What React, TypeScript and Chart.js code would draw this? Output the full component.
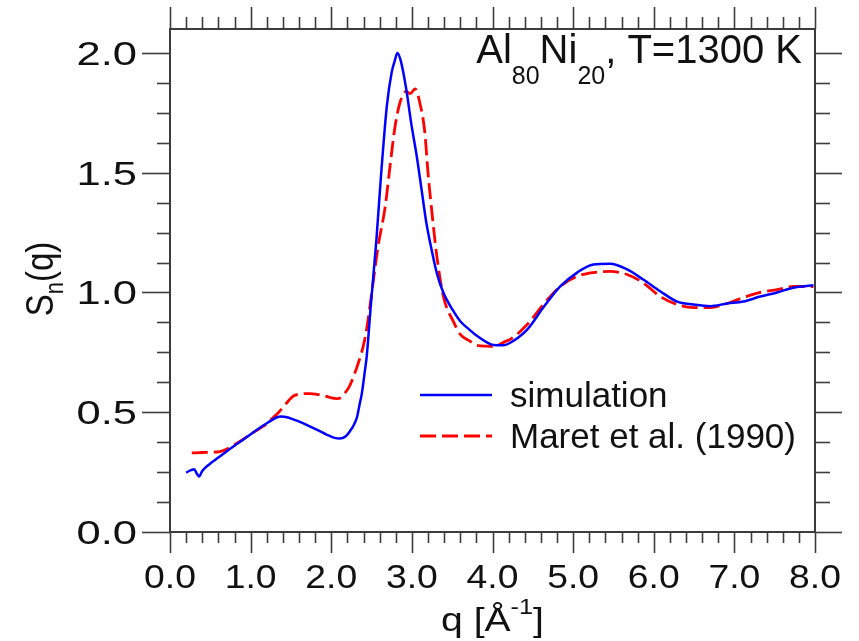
import React, { useEffect, useRef } from "react";
import { Chart, registerables } from "chart.js";

Chart.register(...registerables);

// ---- data ----
const simQ = [0.20, 0.26, 0.30, 0.33, 0.36, 0.40, 0.50, 0.60, 0.70, 0.80, 0.91, 1.00, 1.12, 1.22, 1.32, 1.38, 1.45, 1.53, 1.64, 1.74, 1.84, 1.94, 2.03, 2.11, 2.18, 2.23, 2.28, 2.32, 2.35, 2.38, 2.42, 2.44, 2.49, 2.56, 2.62, 2.69, 2.75, 2.79, 2.82, 2.86, 2.93, 2.99, 3.06, 3.12, 3.18, 3.25, 3.31, 3.39, 3.51, 3.60, 3.72, 3.81, 3.93, 4.01, 4.14, 4.22, 4.43, 4.63, 4.84, 5.05, 5.25, 5.46, 5.67, 5.87, 6.08, 6.29, 6.49, 6.70, 6.91, 7.11, 7.32, 7.53, 7.73, 7.98];
const simS = [0.248, 0.258, 0.262, 0.245, 0.232, 0.255, 0.286, 0.311, 0.336, 0.360, 0.386, 0.408, 0.436, 0.458, 0.478, 0.482, 0.479, 0.470, 0.456, 0.440, 0.424, 0.407, 0.394, 0.390, 0.400, 0.420, 0.447, 0.480, 0.530, 0.580, 0.680, 0.733, 0.943, 1.22, 1.50, 1.78, 1.92, 1.97, 2.0, 1.97, 1.85, 1.71, 1.57, 1.43, 1.29, 1.17, 1.08, 1.0, 0.925, 0.880, 0.843, 0.818, 0.792, 0.781, 0.780, 0.790, 0.845, 0.937, 1.025, 1.083, 1.117, 1.120, 1.096, 1.054, 1.005, 0.962, 0.950, 0.943, 0.954, 0.962, 0.983, 1.000, 1.020, 1.030];

const expQ = [0.27, 0.40, 0.50, 0.62, 0.70, 0.80, 0.91, 1.00, 1.12, 1.20, 1.28, 1.34, 1.40, 1.47, 1.53, 1.60, 1.68, 1.74, 1.82, 1.90, 1.98, 2.07, 2.13, 2.17, 2.22, 2.26, 2.33, 2.40, 2.44, 2.48, 2.58, 2.67, 2.73, 2.79, 2.85, 2.93, 2.98, 3.04, 3.10, 3.16, 3.20, 3.25, 3.31, 3.39, 3.52, 3.60, 3.72, 3.81, 3.93, 4.01, 4.17, 4.22, 4.43, 4.63, 4.84, 5.05, 5.25, 5.46, 5.67, 5.87, 6.08, 6.29, 6.49, 6.70, 6.91, 7.11, 7.32, 7.53, 7.73, 7.98];
const expS = [0.330, 0.332, 0.333, 0.336, 0.345, 0.365, 0.388, 0.408, 0.434, 0.452, 0.478, 0.497, 0.520, 0.548, 0.568, 0.575, 0.578, 0.578, 0.575, 0.570, 0.562, 0.557, 0.563, 0.580, 0.605, 0.635, 0.700, 0.780, 0.850, 0.943, 1.19, 1.36, 1.53, 1.69, 1.79, 1.84, 1.83, 1.85, 1.79, 1.67, 1.50, 1.33, 1.15, 0.985, 0.875, 0.825, 0.797, 0.779, 0.776, 0.775, 0.797, 0.804, 0.866, 0.950, 1.025, 1.067, 1.083, 1.088, 1.075, 1.040, 0.983, 0.950, 0.937, 0.937, 0.954, 0.979, 1.000, 1.012, 1.025, 1.025];

const seriesNames = ["simulation", "Maret et al. (1990)"];
const xTickValues = [0, 1, 2, 3, 4, 5, 6, 7, 8];
const xTickLabels = ["0.0", "1.0", "2.0", "3.0", "4.0", "5.0", "6.0", "7.0", "8.0"];
const yTickValues = [0, 0.5, 1.0, 1.5, 2.0];
const yTickLabels = ["0.0", "0.5", "1.0", "1.5", "2.0"];
const X_MIN = 0, X_MAX = 8, X_MINOR = 0.2;
const Y_MIN = 0, Y_MAX = 2.1, Y_MINOR = 0.125;

const FONT = "'Liberation Sans', Arial, Helvetica, sans-serif";

function stretchedText(ctx: CanvasRenderingContext2D, text: string, x: number, y: number, size: number, sx: number, align: "left" | "center" | "right") {
  ctx.save();
  ctx.font = `${size}px ${FONT}`;
  const w = ctx.measureText(text).width * sx;
  let left = x;
  if (align === "center") left = x - w / 2;
  if (align === "right") left = x - w;
  ctx.translate(left, y);
  ctx.scale(sx, 1);
  ctx.textAlign = "left";
  ctx.textBaseline = "alphabetic";
  ctx.fillText(text, 0, 0);
  ctx.restore();
  return w;
}

const framePlugin = {
  id: "framePlugin",
  afterDraw(chart: any) {
    const { ctx, chartArea: a, scales } = chart;
    const xs = scales.x, ys = scales.y;
    ctx.save();
    ctx.strokeStyle = "#3c3c3c";
    ctx.fillStyle = "#111";
    ctx.lineWidth = 2;
    ctx.strokeRect(a.left, a.top, a.right - a.left, a.bottom - a.top);
    ctx.lineWidth = 1.6;
    const seg = (x1: number, y1: number, x2: number, y2: number) => {
      ctx.beginPath(); ctx.moveTo(x1, y1); ctx.lineTo(x2, y2); ctx.stroke();
    };
    const nx = Math.round((X_MAX - X_MIN) / X_MINOR);
    for (let i = 0; i <= nx; i++) {
      const v = X_MIN + i * X_MINOR;
      const px = Math.round(xs.getPixelForValue(v)) + 0.5;
      const major = i % 5 === 0;
      seg(px, a.bottom, px, a.bottom + (major ? 21 : 11));
      seg(px, a.top, px, a.top - (major ? 22 : 12));
    }
    const ny = Math.floor((2.0 - Y_MIN) / Y_MINOR + 1e-6);
    for (let i = 0; i <= ny; i++) {
      const v = Y_MIN + i * Y_MINOR;
      const py = Math.round(ys.getPixelForValue(v)) + 0.5;
      const major = i % 4 === 0;
      seg(a.left, py, a.left - (major ? 28 : 13), py);
      seg(a.right, py, a.right + (major ? 27 : 15), py);
    }
    // tick labels
    xTickValues.forEach((v, i) => {
      stretchedText(ctx, xTickLabels[i], xs.getPixelForValue(v), a.bottom + 56, 33, 1.13, "center");
    });
    yTickValues.forEach((v, i) => {
      stretchedText(ctx, yTickLabels[i], a.left - 33, ys.getPixelForValue(v) + 12, 34, 1.28, "right");
    });
    // x axis title: q [Å^-1]
    {
      const sx = 1.15;
      ctx.font = `34px ${FONT}`;
      const w1 = ctx.measureText("q [Å").width * sx;
      ctx.font = `22px ${FONT}`;
      const w2 = ctx.measureText("-1").width * sx;
      ctx.font = `34px ${FONT}`;
      const w3 = ctx.measureText("]").width * sx;
      const total = w1 + w2 + w3;
      let x = (a.left + a.right) / 2 - total / 2;
      const base = 631;
      x += stretchedText(ctx, "q [Å", x, base, 34, sx, "left");
      x += stretchedText(ctx, "-1", x, base - 17, 22, sx, "left");
      stretchedText(ctx, "]", x, base, 34, sx, "left");
    }
    // y axis title: S_n(q), rotated
    {
      ctx.save();
      ctx.translate(53, 279);
      ctx.rotate(-Math.PI / 2);
      ctx.scale(1, 1.2);
      ctx.font = `33px ${FONT}`;
      const wS = ctx.measureText("S").width;
      ctx.font = `22px ${FONT}`;
      const wn = ctx.measureText("n").width;
      ctx.font = `33px ${FONT}`;
      const wq = ctx.measureText("(q)").width;
      let x = -(wS + wn + wq) / 2;
      ctx.textBaseline = "alphabetic";
      ctx.textAlign = "left";
      ctx.font = `33px ${FONT}`;
      ctx.fillText("S", x, 0); x += wS;
      ctx.font = `22px ${FONT}`;
      ctx.fillText("n", x, 8); x += wn;
      ctx.font = `33px ${FONT}`;
      ctx.fillText("(q)", x, 0);
      ctx.restore();
    }
    // annotation title: Al80Ni20, T=1300 K
    {
      const parts: [string, number, number][] = [["Al", 40, 0], ["80", 25, 21], ["Ni", 40, 0], ["20", 25, 21], [", T=1300 K", 40, 0]];
      let total = 0;
      parts.forEach(([t, s]) => { ctx.font = `${s}px ${FONT}`; total += ctx.measureText(t).width; });
      let x = 802 - total;
      ctx.textBaseline = "alphabetic";
      ctx.textAlign = "left";
      parts.forEach(([t, s, dy]) => {
        ctx.font = `${s}px ${FONT}`;
        ctx.fillText(t, x, 63 + dy);
        x += ctx.measureText(t).width;
      });
    }
    // legend
    const ds = chart.data.datasets;
    [395, 436].forEach((ly, i) => {
      ctx.save();
      ctx.strokeStyle = ds[i].borderColor;
      ctx.lineWidth = ds[i].borderWidth;
      ctx.setLineDash(ds[i].borderDash || []);
      ctx.beginPath(); ctx.moveTo(420, ly); ctx.lineTo(492, ly); ctx.stroke();
      ctx.restore();
      ctx.font = `35px ${FONT}`;
      ctx.textAlign = "left";
      ctx.textBaseline = "alphabetic";
      ctx.fillText(seriesNames[i], 510, ly + 12);
    });
    ctx.restore();
  },
};

export default function App() {
  const ref = useRef<HTMLCanvasElement | null>(null);
  useEffect(() => {
    if (!ref.current) return;
    const chart = new Chart(ref.current, {
      type: "line",
      data: {
        datasets: [
          {
            label: seriesNames[0],
            data: simQ.map((q, i) => ({ x: q, y: simS[i] })),
            borderColor: "#0000ff",
            borderWidth: 2.5,
            pointRadius: 0,
            tension: 0.35,
            cubicInterpolationMode: "monotone",
            fill: false,
          },
          {
            label: seriesNames[1],
            data: expQ.map((q, i) => ({ x: q, y: expS[i] })),
            borderColor: "#ff0000",
            borderWidth: 2.8,
            borderDash: [16, 6],
            pointRadius: 0,
            tension: 0.35,
            cubicInterpolationMode: "monotone",
            fill: false,
          },
        ],
      },
      options: {
        responsive: false,
        animation: false,
        devicePixelRatio: 1,
        layout: { padding: { left: 170, right: 44, top: 29, bottom: 109 } },
        plugins: { legend: { display: false }, tooltip: { enabled: false } },
        scales: {
          x: { type: "linear", min: X_MIN, max: X_MAX, display: false },
          y: { type: "linear", min: Y_MIN, max: Y_MAX, display: false },
        },
      },
      plugins: [framePlugin],
    } as any);
    return () => chart.destroy();
  }, []);
  return (
    <div style={{ position: "absolute", left: 0, top: 0, width: 859, height: 641, background: "#fff" }}>
      <canvas ref={ref} width={859} height={641} style={{ display: "block" }} />
    </div>
  );
}
